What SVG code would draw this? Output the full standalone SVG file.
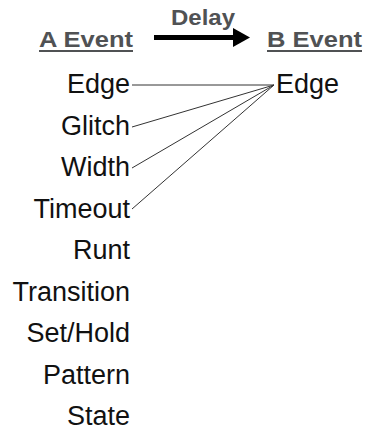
<svg xmlns="http://www.w3.org/2000/svg" width="365" height="430" viewBox="0 0 365 430">
  <style>
    .head { font-family: "Liberation Sans", Arial, sans-serif; font-weight: bold; font-size: 21.5px; fill: #505254; }
    .item { font-family: "Liberation Sans", Arial, sans-serif; font-size: 27px; fill: #111111; }
    .rule { stroke: #505254; stroke-width: 2; }
    .link { stroke: #333333; stroke-width: 1; fill: none; }
  </style>
  <rect width="365" height="430" fill="#ffffff"/>

  <!-- column headers -->
  <g id="header-a">
    <text class="head" x="39" y="47" textLength="94" lengthAdjust="spacingAndGlyphs">A Event</text>
    <line class="rule" x1="39" y1="51" x2="133" y2="51"/>
  </g>
  <g id="header-b">
    <text class="head" x="267" y="47" textLength="95" lengthAdjust="spacingAndGlyphs">B Event</text>
    <line class="rule" x1="267" y1="51" x2="362" y2="51"/>
  </g>
  <g id="delay">
    <text class="head" x="171" y="25" textLength="64" lengthAdjust="spacingAndGlyphs">Delay</text>
    <line x1="154" y1="37.5" x2="235" y2="37.5" stroke="#000" stroke-width="5"/>
    <polygon points="233,28 250,37.5 233,47" fill="#000"/>
  </g>

  <!-- A events -->
  <g id="a-edge"><text class="item" x="130" y="93" text-anchor="end">Edge</text></g>
  <g id="a-glitch"><text class="item" x="130" y="134.5" text-anchor="end">Glitch</text></g>
  <g id="a-width"><text class="item" x="130" y="176" text-anchor="end">Width</text></g>
  <g id="a-timeout"><text class="item" x="130" y="217.5" text-anchor="end">Timeout</text></g>
  <g id="a-runt"><text class="item" x="130" y="259" text-anchor="end">Runt</text></g>
  <g id="a-transition"><text class="item" x="130" y="300.5" text-anchor="end">Transition</text></g>
  <g id="a-setHold"><text class="item" x="130" y="342" text-anchor="end">Set/Hold</text></g>
  <g id="a-pattern"><text class="item" x="130" y="383.5" text-anchor="end">Pattern</text></g>
  <g id="a-state"><text class="item" x="130" y="425" text-anchor="end">State</text></g>

  <!-- B events -->
  <g id="b-edge"><text class="item" x="276" y="93">Edge</text></g>

  <!-- connectors -->
  <g id="connectors">
    <line class="link" x1="132" y1="85" x2="274" y2="85"/>
    <line class="link" x1="132" y1="127" x2="274" y2="85"/>
    <line class="link" x1="132" y1="168" x2="274" y2="85"/>
    <line class="link" x1="132" y1="209" x2="274" y2="85"/>
  </g>
</svg>
